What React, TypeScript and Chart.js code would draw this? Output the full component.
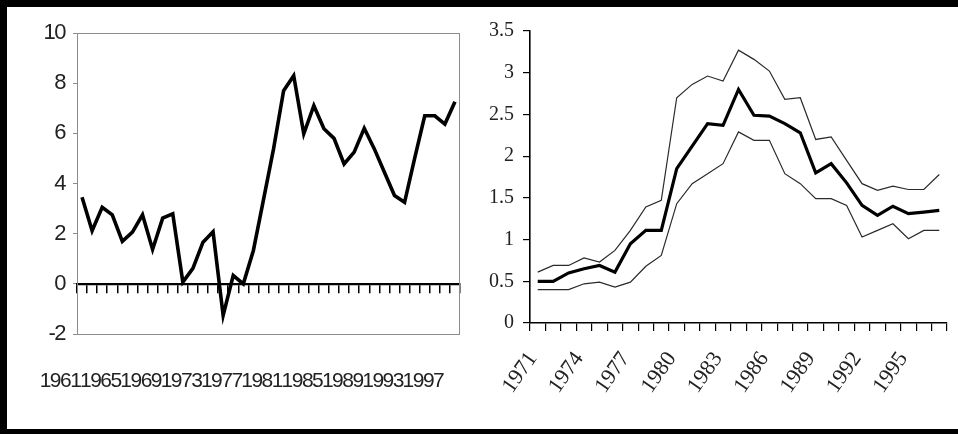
import React, { useEffect, useRef } from 'react';
import { Chart, registerables } from 'chart.js';

Chart.register(...registerables);

// ---------- Left panel data ----------
const leftYears = [
  '1961', '1962', '1963', '1964', '1965', '1966', '1967', '1968', '1969', '1970',
  '1971', '1972', '1973', '1974', '1975', '1976', '1977', '1978', '1979', '1980',
  '1981', '1982', '1983', '1984', '1985', '1986', '1987', '1988', '1989', '1990',
  '1991', '1992', '1993', '1994', '1995', '1996', '1997', '1998',
];
const leftValues = [
  3.45, 2.12, 3.05, 2.75, 1.69, 2.06, 2.75, 1.37, 2.62, 2.79,
  0.07, 0.62, 1.66, 2.08, -1.26, 0.33, 0.0, 1.33, 3.35, 5.38,
  7.7, 8.3, 5.98, 7.1, 6.18, 5.8, 4.78, 5.25, 6.2, 5.38,
  4.45, 3.52, 3.25, 5.0, 6.7, 6.7, 6.37, 7.26,
];
const leftYMin = -2;
const leftYMax = 10;
const leftYStep = 2;
const leftLabelEvery = 4;

// ---------- Right panel data ----------
const rightYears = [
  '1971', '1972', '1973', '1974', '1975', '1976', '1977', '1978', '1979', '1980',
  '1981', '1982', '1983', '1984', '1985', '1986', '1987', '1988', '1989', '1990',
  '1991', '1992', '1993', '1994', '1995', '1996', '1997',
];
const rightMid = [
  0.5, 0.5, 0.6, 0.65, 0.69, 0.61, 0.95, 1.11, 1.11, 1.85,
  2.12, 2.39, 2.37, 2.8, 2.49, 2.48, 2.39, 2.28, 1.8, 1.91,
  1.68, 1.41, 1.29, 1.4, 1.31, 1.33, 1.35,
];
const rightUpper = [
  0.61, 0.69, 0.69, 0.78, 0.73, 0.87, 1.11, 1.39, 1.47, 2.7,
  2.86, 2.96, 2.9, 3.27, 3.16, 3.02, 2.68, 2.7, 2.2, 2.23,
  1.95, 1.67, 1.59, 1.64, 1.6, 1.6, 1.78,
];
const rightLower = [
  0.4, 0.4, 0.4, 0.47, 0.49, 0.43, 0.49, 0.68, 0.81, 1.43,
  1.67, 1.79, 1.91, 2.29, 2.19, 2.19, 1.79, 1.67, 1.49, 1.49,
  1.41, 1.03, 1.11, 1.19, 1.01, 1.11, 1.11,
];
const rightYMin = 0;
const rightYMax = 3.5;
const rightYStep = 0.5;
const rightLabelEvery = 3;

const SANS = "'Liberation Sans', Arial, sans-serif";
const SERIF = "'Liberation Serif', 'Times New Roman', serif";

const plotBox = {
  id: 'plotBox',
  beforeDatasetsDraw(chart: any) {
    const { ctx, chartArea: a } = chart;
    ctx.save();
    ctx.strokeStyle = '#8c8c8c';
    ctx.lineWidth = 1;
    ctx.strokeRect(a.left + 0.5, a.top + 0.5, a.right - a.left - 1, a.bottom - a.top);
    ctx.restore();
  },
};

// condensed look of the original's narrow typeface
const tightText = {
  id: 'tightText',
  beforeDraw(chart: any) {
    chart.ctx.letterSpacing = '-1.5px';
  },
  afterDraw(chart: any) {
    chart.ctx.letterSpacing = '0px';
  },
};

function LeftChart() {
  const ref = useRef<HTMLCanvasElement | null>(null);
  useEffect(() => {
    if (!ref.current) return;
    const chart = new Chart(ref.current, {
      type: 'line',
      data: {
        labels: leftYears,
        datasets: [
          {
            data: leftValues,
            borderColor: '#000',
            borderWidth: 3.6,
            pointRadius: 0,
            tension: 0,
            fill: false,
            xAxisID: 'x',
            yAxisID: 'y',
          },
        ],
      },
      options: {
        animation: false,
        responsive: false,
        events: [],
        layout: { padding: { top: 26, right: 20, left: 0, bottom: 0 } },
        plugins: { legend: { display: false }, tooltip: { enabled: false } },
        scales: {
          x: {
            type: 'category',
            position: 'bottom',
            offset: true,
            grid: { display: false, drawTicks: true, tickLength: 35 },
            border: { display: false },
            ticks: {
              autoSkip: false,
              maxRotation: 0,
              minRotation: 0,
              labelOffset: -22,
              padding: 0,
              color: '#222',
              font: { family: SANS, size: 21 },
              callback: (_v: any, i: number) => (i % leftLabelEvery === 0 ? leftYears[i] : ''),
            },
            afterFit: (s: any) => { s.height = 95; },
          },
          x0: {
            type: 'category',
            position: { y: 0 },
            offset: true,
            grid: { offset: true, drawOnChartArea: false, drawTicks: true, tickLength: 8, color: '#000', lineWidth: 1.5 },
            border: { display: true, color: '#000', width: 2.2 },
            ticks: { display: false, padding: 0 },
          },
          y: {
            type: 'linear',
            min: leftYMin,
            max: leftYMax,
            grid: { drawOnChartArea: false, tickLength: 4, color: '#8c8c8c' },
            border: { color: '#8c8c8c', width: 1 },
            ticks: {
              stepSize: leftYStep,
              padding: 8,
              color: '#222',
              font: { family: SANS, size: 22 },
              callback: (v: any) => String(v),
            },
            afterFit: (s: any) => { s.width = 70; },
          },
        },
      } as any,
      plugins: [plotBox, tightText],
    });
    return () => chart.destroy();
  }, []);
  return <canvas ref={ref} width={473} height={422} style={{ position: 'absolute', left: 7, top: 7 }} />;
}

function RightChart() {
  const ref = useRef<HTMLCanvasElement | null>(null);
  useEffect(() => {
    if (!ref.current) return;
    const chart = new Chart(ref.current, {
      type: 'line',
      data: {
        labels: rightYears,
        datasets: [
          { data: rightUpper, borderColor: '#2a2a2a', borderWidth: 1.2, pointRadius: 0, tension: 0, fill: false },
          { data: rightLower, borderColor: '#2a2a2a', borderWidth: 1.2, pointRadius: 0, tension: 0, fill: false },
          { data: rightMid, borderColor: '#000', borderWidth: 3.2, pointRadius: 0, tension: 0, fill: false },
        ],
      },
      options: {
        animation: false,
        responsive: false,
        events: [],
        layout: { padding: { top: 24, right: 11, left: 0, bottom: 0 } },
        plugins: { legend: { display: false }, tooltip: { enabled: false } },
        scales: {
          x: {
            type: 'category',
            position: 'bottom',
            offset: true,
            grid: { offset: true, drawOnChartArea: false, drawTicks: true, tickLength: 8, color: '#000', lineWidth: 1.2 },
            border: { color: '#000', width: 1.6 },
            ticks: {
              autoSkip: false,
              maxRotation: 55,
              minRotation: 55,
              padding: 16,
              labelOffset: -5,
              color: '#222',
              font: { family: SERIF, size: 22 },
              callback: (_v: any, i: number) => (i % rightLabelEvery === 0 ? rightYears[i] : ''),
            },
            afterFit: (s: any) => {
              s.height = 106;
              s.paddingLeft = 0;
              s.paddingRight = 0;
            },
          },
          y: {
            type: 'linear',
            min: rightYMin,
            max: rightYMax,
            grid: { drawOnChartArea: false, tickLength: 7, color: '#000', lineWidth: 1.2 },
            border: { color: '#000', width: 1.6 },
            ticks: {
              stepSize: rightYStep,
              padding: 9,
              color: '#222',
              font: { family: SERIF, size: 20 },
              callback: (v: any) => String(v),
            },
            afterFit: (s: any) => { s.width = 50; },
          },
        },
      } as any,
    });
    return () => chart.destroy();
  }, []);
  return <canvas ref={ref} width={478} height={422} style={{ position: 'absolute', left: 480, top: 7 }} />;
}

export default function App() {
  return (
    <div
      style={{
        position: 'fixed',
        left: 0,
        top: 0,
        width: 958,
        height: 434,
        background: '#fff',
        overflow: 'hidden',
      }}
    >
      <div
        style={{
          position: 'absolute',
          left: 0,
          top: 0,
          width: 958,
          height: 434,
          boxSizing: 'border-box',
          borderTop: '7px solid #000',
          borderLeft: '7px solid #000',
          borderBottom: '5px solid #000',
        }}
      />
      <LeftChart />
      <RightChart />
    </div>
  );
}
